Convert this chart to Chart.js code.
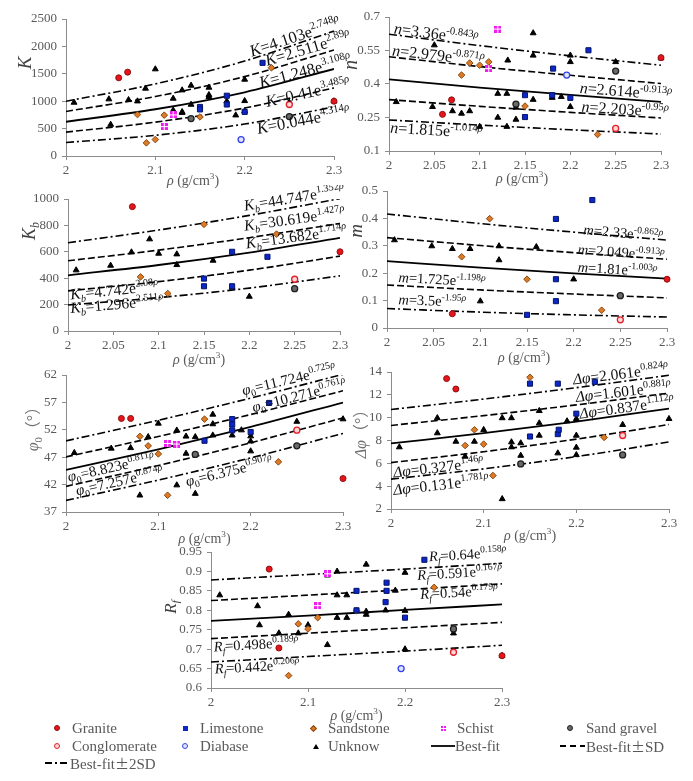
<!DOCTYPE html>
<html>
<head>
<meta charset="utf-8">
<script src="https://cdn.jsdelivr.net/npm/chart.js@4.4.1/dist/chart.umd.min.js"></script>
<style>
  body { margin: 0; background: #fff; width: 693px; height: 781px; position: relative; overflow: hidden;
         font-family: 'Liberation Serif', 'Times New Roman', serif; }
  .pane { position: absolute; }
  .lg { position: absolute; font-size: 15px; line-height: 16px; color: #595959; white-space: nowrap; }
  .pm { font-family: 'Noto Sans CJK SC', sans-serif; font-size: 14px; }
  .mk { position: absolute; box-sizing: border-box; }
</style>
</head>
<body>
<script>
// ---- shared axis values ----
var rhoTicksWide = [2, 2.1, 2.2, 2.3];
var rhoTicksFine = [2, 2.05, 2.1, 2.15, 2.2, 2.25, 2.3];
var fitRho = [2, 2.1, 2.2, 2.3];

// ---- K ----
var kTicks = [0, 500, 1000, 1500, 2000, 2500];
var kGranite = [[2.059, 1427], [2.069, 1530], [2.3, 1000]];
var kLimestone = [[2.22, 1700], [2.18, 1100], [2.18, 940], [2.15, 895], [2.15, 850], [2.2, 805]];
var kSandstone = [[2.23, 1610], [2.08, 756], [2.11, 745], [2.15, 713], [2.09, 240], [2.1, 300]];
var kSchist = [[2.12, 750], [2.11, 537]];
var kSandGravel = [[2.14, 683], [2.25, 720]];
var kConglomerate = [[2.25, 940]];
var kDiabase = [[2.196, 300]];
var kUnknown = [[2.009, 976], [2.048, 1037], [2.05, 573], [2.07, 1024], [2.08, 1000], [2.089, 1232], [2.1, 1585],
  [2.12, 1049], [2.12, 835], [2.13, 1201], [2.13, 805], [2.13, 790], [2.14, 1287], [2.14, 939], [2.16, 1250],
  [2.16, 1116], [2.16, 1079], [2.18, 1000], [2.19, 744], [2.2, 1396], [2.2, 1006], [2.2, 820], [2.25, 976], [2.3, 1000]];
var kFits = [[1000, 1316, 1733, 2280], [813, 1085, 1449, 1934], [625, 853, 1163, 1588], [436, 618, 876, 1242], [246, 378, 583, 897]];
var kEqA = ['4.103', '2.511', '1.248', '0.41', '0.044'];
var kEqB = ['2.748', '2.89', '3.108', '3.485', '4.314'];

// ---- n ----
var nTicks = [0.1, 0.25, 0.4, 0.55, 0.7];
var nGranite = [[2.069, 0.329], [2.059, 0.264], [2.3, 0.518]];
var nLimestone = [[2.22, 0.551], [2.181, 0.469], [2.15, 0.35], [2.15, 0.252], [2.18, 0.35], [2.2, 0.338]];
var nSandstone = [[2.089, 0.494], [2.1, 0.484], [2.11, 0.499], [2.08, 0.44], [2.15, 0.301], [2.23, 0.174]];
var nSchist = [[2.12, 0.646], [2.11, 0.469]];
var nSandGravel = [[2.25, 0.458], [2.14, 0.31]];
var nConglomerate = [[2.25, 0.201]];
var nDiabase = [[2.196, 0.44]];
var nUnknown = [[2.008, 0.32], [2.05, 0.574], [2.048, 0.298], [2.07, 0.279], [2.08, 0.268], [2.089, 0.279], [2.1, 0.209],
  [2.12, 0.357], [2.12, 0.25], [2.13, 0.357], [2.131, 0.506], [2.13, 0.209], [2.14, 0.295], [2.14, 0.241], [2.159, 0.628],
  [2.159, 0.528], [2.159, 0.33], [2.18, 0.339], [2.19, 0.343], [2.2, 0.528], [2.2, 0.499], [2.2, 0.298], [2.25, 0.499], [2.3, 0.516]];
var nFits = [[0.623, 0.572, 0.526, 0.484], [0.522, 0.478, 0.439, 0.402], [0.421, 0.384, 0.351, 0.320],
  [0.330, 0.300, 0.273, 0.248], [0.239, 0.216, 0.195, 0.176]];
var nEqA = ['3.36', '2.979', '2.614', '2.203', '1.815'];
var nEqB = ['-0.843', '-0.871', '-0.913', '-0.95', '-1.014'];

// ---- Kb ----
var kbTicks = [0, 200, 400, 600, 800, 1000];
var kbGranite = [[2.071, 942], [2.3, 600]];
var kbLimestone = [[2.181, 600], [2.15, 397], [2.15, 339], [2.181, 339], [2.22, 562]];
var kbSandstone = [[2.15, 808], [2.23, 734], [2.08, 410], [2.11, 284]];
var kbSandGravel = [[2.25, 321]];
var kbConglomerate = [[2.25, 392]];
var kbUnknown = [[2.009, 461], [2.047, 496], [2.07, 597], [2.09, 696], [2.1, 587], [2.12, 582], [2.12, 501],
  [2.16, 534], [2.2, 261], [2.181, 330]];
var kbFits = [[669, 765, 876, 1003], [532, 613, 707, 815], [422, 500, 594, 705], [304, 374, 461, 567], [197, 253, 325, 418]];
var kbEqA = ['44.747', '30.619', '13.682', '4.742', '1.296'];
var kbEqB = ['1.352', '1.427', '1.714', '2.08', '2.511'];

// ---- m ----
var mTicks = [0, 0.1, 0.2, 0.3, 0.4, 0.5];
var mGranite = [[2.07, 0.052], [2.3, 0.178]];
var mLimestone = [[2.22, 0.467], [2.181, 0.398], [2.181, 0.178], [2.181, 0.098], [2.15, 0.048]];
var mSandstone = [[2.11, 0.399], [2.08, 0.26], [2.15, 0.178], [2.23, 0.065]];
var mSandGravel = [[2.25, 0.118]];
var mConglomerate = [[2.25, 0.03]];
var mUnknown = [[2.008, 0.321], [2.048, 0.299], [2.07, 0.289], [2.089, 0.289], [2.12, 0.299], [2.12, 0.248],
  [2.16, 0.296], [2.2, 0.178], [2.1, 0.098]];
var mFits = [[0.416, 0.381, 0.350, 0.321], [0.330, 0.301, 0.275, 0.251], [0.244, 0.220, 0.199, 0.180],
  [0.157, 0.139, 0.124, 0.110], [0.071, 0.058, 0.048, 0.040]];
var mEqA = ['2.33', '2.049', '1.81', '1.725', '3.5'];
var mEqB = ['-0.862', '-0.913', '-1.003', '-1.198', '-1.95'];

// ---- phi0 ----
var phiTicks = [37, 42, 47, 52, 57, 62];
var phiGranite = [[2.06, 54.07], [2.07, 54.07], [2.3, 43.1]];
var phiLimestone = [[2.22, 56.9], [2.18, 53.95], [2.18, 52.98], [2.18, 51.9], [2.15, 50.0], [2.2, 51.6]];
var phiSandstone = [[2.15, 53.95], [2.08, 50.8], [2.089, 49.07], [2.1, 47.6], [2.11, 40.05], [2.23, 46.15]];
var phiSchist = [[2.11, 49.5], [2.12, 49.4]];
var phiSandGravel = [[2.14, 47.5], [2.25, 49.07]];
var phiConglomerate = [[2.25, 51.94]];
var phiUnknown = [[2.009, 47.8], [2.049, 48.6], [2.07, 48.7], [2.089, 50.7], [2.1, 53.16], [2.12, 51.9], [2.13, 50.8],
  [2.13, 47.67], [2.14, 50.7], [2.159, 54.8], [2.159, 53.05], [2.159, 51.0], [2.18, 51.0], [2.19, 51.94], [2.2, 50.84],
  [2.2, 49.9], [2.2, 48.1], [2.08, 40.05], [2.12, 41.9], [2.14, 40.35], [2.25, 53.5], [2.3, 53.95]];
var phiFits = [[49.98, 53.74, 57.78, 62.12], [47.06, 50.78, 54.79, 59.12], [44.67, 48.45, 52.54, 56.98],
  [41.68, 45.49, 49.64, 54.17], [39.11, 42.82, 46.89, 51.34]];
var phiEqA = ['11.724', '10.271', '8.823', '7.257', '6.375'];
var phiEqB = ['0.725', '0.761', '0.811', '0.874', '0.907'];

// ---- delta phi ----
var dphiTicks = [2, 4, 6, 8, 10, 12, 14];
var dphiGranite = [[2.06, 13.42], [2.07, 12.51]];
var dphiLimestone = [[2.15, 12.98], [2.18, 12.98], [2.22, 13.13], [2.2, 10.35], [2.15, 8.35], [2.18, 8.56], [2.181, 8.94]];
var dphiSandstone = [[2.15, 13.54], [2.09, 8.94], [2.08, 7.56], [2.1, 7.68], [2.11, 4.93], [2.23, 8.27]];
var dphiSandGravel = [[2.14, 5.95], [2.25, 6.74]];
var dphiConglomerate = [[2.25, 8.44]];
var dphiUnknown = [[2.009, 7.42], [2.05, 8.65], [2.07, 7.91], [2.08, 6.6], [2.09, 7.91], [2.1, 8.94], [2.05, 9.97],
  [2.12, 9.97], [2.13, 9.97], [2.13, 7.86], [2.13, 7.42], [2.14, 7.77], [2.14, 6.68], [2.16, 10.6], [2.16, 9.52],
  [2.16, 8.44], [2.18, 6.89], [2.19, 9.7], [2.2, 9.9], [2.2, 8.44], [2.2, 7.39], [2.2, 6.74], [2.25, 9.38], [2.3, 9.9], [2.12, 2.88]];
var dphiFits = [[10.71, 11.63, 12.63, 13.71], [9.32, 10.18, 11.12, 12.15], [7.74, 8.65, 9.66, 10.80],
  [6.06, 7.02, 8.12, 9.40], [4.62, 5.52, 6.59, 7.87]];
var dphiEqA = ['2.061', '1.601', '0.837', '0.327', '0.131'];
var dphiEqB = ['0.824', '0.881', '1.112', '1.46', '1.781'];

// ---- Rf ----
var rfTicks = [0.6, 0.65, 0.7, 0.75, 0.8, 0.85, 0.9, 0.95];
var rfGranite = [[2.06, 0.906], [2.07, 0.703], [2.3, 0.683]];
var rfLimestone = [[2.22, 0.930], [2.181, 0.871], [2.181, 0.850], [2.15, 0.850], [2.18, 0.821], [2.2, 0.781], [2.15, 0.800]];
var rfSandstone = [[2.23, 0.859], [2.15, 0.799], [2.11, 0.781], [2.09, 0.765], [2.1, 0.752], [2.08, 0.632]];
var rfSchist = [[2.12, 0.894], [2.11, 0.812]];
var rfSandGravel = [[2.25, 0.752]];
var rfConglomerate = [[2.25, 0.692]];
var rfDiabase = [[2.196, 0.650]];
var rfUnknown = [[2.009, 0.839], [2.048, 0.811], [2.05, 0.762], [2.07, 0.741], [2.08, 0.789], [2.09, 0.741], [2.1, 0.762],
  [2.12, 0.890], [2.12, 0.711], [2.13, 0.900], [2.13, 0.839], [2.13, 0.781], [2.14, 0.839], [2.14, 0.781], [2.16, 0.918],
  [2.16, 0.797], [2.16, 0.789], [2.18, 0.800], [2.19, 0.851], [2.2, 0.897], [2.2, 0.799], [2.2, 0.700], [2.25, 0.741], [2.3, 0.683]];
var rfFits = [[0.878, 0.892, 0.906, 0.921], [0.825, 0.839, 0.853, 0.868], [0.773, 0.786, 0.801, 0.815],
  [0.727, 0.741, 0.755, 0.769], [0.667, 0.681, 0.695, 0.710]];
var rfEqA = ['0.64', '0.591', '0.54', '0.498', '0.442'];
var rfEqB = ['0.158', '0.167', '0.179', '0.189', '0.206'];

var legendNames = ['Granite', 'Limestone', 'Sandstone', 'Schist', 'Sand gravel',
  'Conglomerate', 'Diabase', 'Unknow', 'Best-fit', 'Best-fit±SD', 'Best-fit±2SD'];

// ---------------------------------------------------------------
var serif = "'Liberation Serif', 'Times New Roman', 'Noto Sans CJK SC', serif";

function makeSchist() {
  var c = document.createElement('canvas');
  c.width = 7; c.height = 7;
  var g = c.getContext('2d');
  g.fillStyle = '#f01cf0';
  g.fillRect(0, 0, 7, 7);
  g.fillStyle = '#ffffff';
  g.fillRect(3, 0, 1, 7);
  g.fillRect(0, 3, 7, 1);
  return c;
}

var rockStyle = {
  granite:      { pointStyle: 'circle',  radius: 3,   bg: '#e8141c', bd: '#8c1010', bw: 1 },
  limestone:    { pointStyle: 'rect',    radius: 3.6, bg: '#0b26c9', bd: '#061466', bw: 1 },
  sandstone:    { pointStyle: 'rectRot', radius: 3.3, bg: '#dc7a26', bd: '#8a4812', bw: 1 },
  schist:       { pointStyle: makeSchist(), radius: 3.5, bg: '#f01cf0', bd: '#f01cf0', bw: 0 },
  sandGravel:   { pointStyle: 'circle',  radius: 3,   bg: '#6a6a6a', bd: '#1e1e1e', bw: 1.3 },
  conglomerate: { pointStyle: 'circle',  radius: 3,   bg: '#ffd6d6', bd: '#e0202a', bw: 1.3 },
  diabase:      { pointStyle: 'circle',  radius: 3,   bg: '#dfe3ff', bd: '#3344e6', bw: 1.3 },
  unknown:      { pointStyle: 'triangle', radius: 3.4, bg: '#000000', bd: '#000000', bw: 1 }
};
var fitDash = [[8, 3, 2, 3], [7, 3], [], [7, 3], [8, 3, 2, 3]];

function fontFor(st, size) {
  var small = st.indexOf('sup') === 0 || st.indexOf('sub') === 0;
  var it = st === 'i' || st === 'supi' || st === 'subi';
  return (it ? 'italic ' : '') + (small ? (size * 0.66).toFixed(1) : size) + 'px ' + serif;
}
function shiftFor(st, size) {
  if (st.indexOf('sup') === 0) return -size * 0.4;
  if (st.indexOf('sub') === 0) return size * 0.22;
  return 0;
}
function drawRich(ctx, tokens, x, y, size, color, align) {
  var w = 0;
  tokens.forEach(function (t) { ctx.font = fontFor(t[1], size); w += ctx.measureText(t[0]).width; });
  var cx = align === 'center' ? x - w / 2 : x;
  ctx.fillStyle = color;
  ctx.textBaseline = 'alphabetic';
  ctx.textAlign = 'left';
  tokens.forEach(function (t) {
    ctx.font = fontFor(t[1], size);
    ctx.fillText(t[0], cx, y + shiftFor(t[1], size));
    cx += ctx.measureText(t[0]).width;
  });
}

var xTitle = [['ρ', 'i'], [' (g/cm', 'n'], ['3', 'sup'], [')', 'n']];

function annotations(p) {
  return {
    id: 'annot',
    afterDraw: function (chart) {
      var ctx = chart.ctx, xs = chart.scales.x, ys = chart.scales.y, a = chart.chartArea;
      ctx.save();
      // equations along the fitted curves
      p.eqAt.forEach(function (pos, i) {
        var k = 0;
        while (k < fitRho.length - 2 && pos[0] > fitRho[k + 1]) k++;
        var x0 = xs.getPixelForValue(fitRho[k]), y0 = ys.getPixelForValue(p.fits[i][k]);
        var x1 = xs.getPixelForValue(fitRho[k + 1]), y1 = ys.getPixelForValue(p.fits[i][k + 1]);
        var ang = Math.atan2(y1 - y0, x1 - x0);
        var tokens = p.lhs.concat([['=' + p.eqA[i] + 'e', 'n'], [p.eqB[i], 'sup'], ['ρ', 'supi']]);
        ctx.save();
        ctx.translate(xs.getPixelForValue(pos[0]), ys.getPixelForValue(pos[1]));
        ctx.rotate(ang);
        drawRich(ctx, tokens, 0, 0, p.eqSize, '#111111', 'left');
        ctx.restore();
      });
      // y title
      ctx.save();
      ctx.translate(a.left + p.yTitleAt[0], a.top + p.yTitleAt[1]);
      ctx.rotate(-Math.PI / 2);
      drawRich(ctx, p.yTitle, 0, p.yTitleSize * 0.33, p.yTitleSize, p.yTitleColor, 'center');
      ctx.restore();
      // x title
      drawRich(ctx, xTitle, (a.left + a.right) / 2 + p.xTitleAt[0], a.bottom + p.xTitleAt[1] + 5, 14, '#595959', 'center');
      ctx.restore();
    }
  };
}

function buildPlot(p) {
  var L = p.area[0], T = p.area[1], R = p.area[2], B = p.area[3];
  var padT = 14, padR = 22, yW = 62, xH = 44;
  var w = R - L + yW + padR, h = B - T + padT + xH;
  var div = document.createElement('div');
  div.className = 'pane';
  div.style.left = (L - yW) + 'px';
  div.style.top = (T - padT) + 'px';
  div.style.width = w + 'px';
  div.style.height = h + 'px';
  var cv = document.createElement('canvas');
  cv.width = w; cv.height = h;
  div.appendChild(cv);
  document.body.appendChild(div);

  var datasets = [];
  Object.keys(p.points).forEach(function (type) {
    var s = rockStyle[type];
    datasets.push({
      label: type,
      data: p.points[type].map(function (d) { return { x: d[0], y: d[1] }; }),
      showLine: false,
      pointStyle: s.pointStyle,
      pointRadius: s.radius,
      backgroundColor: s.bg,
      borderColor: s.bd,
      borderWidth: s.bw,
      clip: false,
      order: 0
    });
  });
  p.fits.forEach(function (vals, i) {
    datasets.push({
      type: 'line',
      data: fitRho.map(function (x, k) { return { x: x, y: vals[k] }; }),
      showLine: true,
      borderColor: '#000000',
      borderWidth: i === 2 ? 1.8 : 1.6,
      borderDash: fitDash[i],
      pointRadius: 0,
      fill: false,
      cubicInterpolationMode: 'monotone',
      order: 1
    });
  });

  var axisColor = '#8c8c8c';
  function axis(min, max, ticks, isX) {
    return {
      type: 'linear',
      min: min, max: max,
      afterBuildTicks: function (s) { s.ticks = ticks.map(function (v) { return { value: v }; }); },
      afterFit: function (s) { if (isX) s.height = xH; else s.width = yW; },
      grid: { display: true, drawOnChartArea: false, drawTicks: true, tickLength: 4, color: axisColor },
      border: { display: true, color: axisColor, width: 1 },
      ticks: {
        autoSkip: false, maxRotation: 0, padding: isX ? 3 : 5, color: '#595959',
        font: { family: serif, size: 13 },
        callback: function (v) { return String(v); }
      }
    };
  }

  new Chart(cv, {
    type: 'scatter',
    data: { datasets: datasets },
    options: {
      responsive: false,
      animation: false,
      layout: { padding: { left: 0, top: padT, right: padR, bottom: 0 } },
      plugins: { legend: { display: false }, tooltip: { enabled: false } },
      scales: {
        x: axis(2, 2.3, p.xTicks, true),
        y: axis(p.yRange[0], p.yRange[1], p.yTicks, false)
      }
    },
    plugins: [annotations(p)]
  });
}

var plots = [
  { area: [66, 19, 334, 156], xTicks: rhoTicksWide, yRange: [0, 2500], yTicks: kTicks,
    points: { granite: kGranite, limestone: kLimestone, sandstone: kSandstone, schist: kSchist,
      sandGravel: kSandGravel, conglomerate: kConglomerate, diabase: kDiabase, unknown: kUnknown },
    fits: kFits, eqA: kEqA, eqB: kEqB, lhs: [['K', 'i']], eqSize: 16.5,
    eqAt: [[2.208, 1812], [2.225, 1642], [2.218, 1241], [2.225, 894], [2.215, 401]],
    yTitle: [['K', 'i']], yTitleSize: 19, yTitleColor: '#404040', yTitleAt: [-41, 44], xTitleAt: [-7, 24] },
  { area: [389, 17, 661, 151], xTicks: rhoTicksFine, yRange: [0.1, 0.7], yTicks: nTicks,
    points: { granite: nGranite, limestone: nLimestone, sandstone: nSandstone, schist: nSchist,
      sandGravel: nSandGravel, conglomerate: nConglomerate, diabase: nDiabase, unknown: nUnknown },
    fits: nFits, eqA: nEqA, eqB: nEqB, lhs: [['n', 'i']], eqSize: 16,
    eqAt: [[2.005, 0.626], [2.003, 0.528], [2.21, 0.36], [2.212, 0.276], [2.001, 0.182]],
    yTitle: [['n', 'i']], yTitleSize: 20, yTitleColor: '#404040', yTitleAt: [-39, 48], xTitleAt: [-3, 27] },
  { area: [68, 199, 340, 331], xTicks: rhoTicksFine, yRange: [0, 1000], yTicks: kbTicks,
    points: { granite: kbGranite, limestone: kbLimestone, sandstone: kbSandstone,
      sandGravel: kbSandGravel, conglomerate: kbConglomerate, unknown: kbUnknown },
    fits: kbFits, eqA: kbEqA, eqB: kbEqB, lhs: [['K', 'i'], ['b', 'subi']], eqSize: 15.5,
    eqAt: [[2.195, 911], [2.195, 759], [2.197, 625], [2.003, 238], [2.003, 137]],
    yTitle: [['K', 'i'], ['b', 'subi']], yTitleSize: 18, yTitleColor: '#404040', yTitleAt: [-39, 32], xTitleAt: [-5, 28] },
  { area: [387, 191, 667, 328], xTicks: rhoTicksFine, yRange: [0, 0.5], yTicks: mTicks,
    points: { granite: mGranite, limestone: mLimestone, sandstone: mSandstone,
      sandGravel: mSandGravel, conglomerate: mConglomerate, unknown: mUnknown },
    fits: mFits, eqA: mEqA, eqB: mEqB, lhs: [['m', 'i']], eqSize: 14.5,
    eqAt: [[2.21, 0.342], [2.204, 0.27], [2.204, 0.205], [2.012, 0.168], [2.012, 0.087]],
    yTitle: [['m', 'i']], yTitleSize: 19, yTitleColor: '#404040', yTitleAt: [-31, 40], xTitleAt: [-3, 29] },
  { area: [66, 375, 343, 512], xTicks: rhoTicksWide, yRange: [37, 62], yTicks: phiTicks,
    points: { granite: phiGranite, limestone: phiLimestone, sandstone: phiSandstone, schist: phiSchist,
      sandGravel: phiSandGravel, conglomerate: phiConglomerate, unknown: phiUnknown },
    fits: phiFits, eqA: phiEqA, eqB: phiEqB, lhs: [['φ', 'i'], ['0', 'sub']], eqSize: 15,
    eqAt: [[2.192, 58.3], [2.203, 55.2], [2.003, 42.5], [2.012, 40.0], [2.131, 41.7]],
    yTitle: [['φ', 'i'], ['0', 'sub'], ['（°）', 'n']], yTitleSize: 16, yTitleColor: '#707070', yTitleAt: [-33, 50], xTitleAt: [0, 26] },
  { area: [391, 372, 669, 509], xTicks: rhoTicksWide, yRange: [2, 14], yTicks: dphiTicks,
    points: { granite: dphiGranite, limestone: dphiLimestone, sandstone: dphiSandstone,
      sandGravel: dphiSandGravel, conglomerate: dphiConglomerate, unknown: dphiUnknown },
    fits: dphiFits, eqA: dphiEqA, eqB: dphiEqB, lhs: [['Δφ', 'i']], eqSize: 15.5,
    eqAt: [[2.197, 12.9], [2.2, 11.37], [2.204, 9.9], [2.003, 4.75], [2.003, 3.23]],
    yTitle: [['Δφ', 'i'], ['（°）', 'n']], yTitleSize: 16, yTitleColor: '#707070', yTitleAt: [-30, 58], xTitleAt: [0, 26] },
  { area: [211, 552, 502, 688], xTicks: rhoTicksWide, yRange: [0.6, 0.95], yTicks: rfTicks,
    points: { granite: rfGranite, limestone: rfLimestone, sandstone: rfSandstone, schist: rfSchist,
      sandGravel: rfSandGravel, conglomerate: rfConglomerate, diabase: rfDiabase, unknown: rfUnknown },
    fits: rfFits, eqA: rfEqA, eqB: rfEqB, lhs: [['R', 'i'], ['f', 'subi']], eqSize: 14.5,
    eqAt: [[2.225, 0.926], [2.213, 0.878], [2.216, 0.829], [2.003, 0.694], [2.004, 0.637]],
    yTitle: [['R', 'i'], ['f', 'subi']], yTitleSize: 17, yTitleColor: '#404040', yTitleAt: [-41, 55], xTitleAt: [0, 27] }
];

Chart.defaults.font.family = serif;
plots.forEach(buildPlot);

// ---- legend (HTML) ----
function addText(txt, x, cy) {
  var s = document.createElement('div');
  s.className = 'lg';
  s.style.left = x + 'px';
  s.style.top = (cy - 8) + 'px';
  s.innerHTML = txt.replace('±', '<span class="pm">±</span>');
  document.body.appendChild(s);
}
function addMarker(css, cx, cy, w, h) {
  var m = document.createElement('div');
  m.className = 'mk';
  m.style.cssText = css + ';left:' + (cx - w / 2) + 'px;top:' + (cy - h / 2) + 'px;width:' + w + 'px;height:' + h + 'px;';
  document.body.appendChild(m);
}
function addLine(dash, x0, x1, cy) {
  var ns = 'http://www.w3.org/2000/svg';
  var svg = document.createElementNS(ns, 'svg');
  svg.setAttribute('width', x1 - x0);
  svg.setAttribute('height', 4);
  svg.style.position = 'absolute';
  svg.style.left = x0 + 'px';
  svg.style.top = (cy - 2) + 'px';
  var ln = document.createElementNS(ns, 'line');
  ln.setAttribute('x1', 0); ln.setAttribute('x2', x1 - x0);
  ln.setAttribute('y1', 2); ln.setAttribute('y2', 2);
  ln.setAttribute('stroke', '#000');
  ln.setAttribute('stroke-width', 1.8);
  if (dash) ln.setAttribute('stroke-dasharray', dash);
  svg.appendChild(ln);
  document.body.appendChild(svg);
}

var row1 = 728, row2 = 746, row3 = 763;
addMarker('background:#e8141c;border:1px solid #8c1010;border-radius:50%', 57, row1, 6, 6);
addText(legendNames[0], 72, row1);
addMarker('background:#0b26c9', 185, row1, 5, 5);
addText(legendNames[1], 200, row1);
addMarker('background:#dc7a26;border:1px solid #8a4812;transform:rotate(45deg)', 313, row1, 5, 5);
addText(legendNames[2], 328, row1);
addMarker('background:linear-gradient(#fff,#fff) center/100% 1px no-repeat,linear-gradient(#fff,#fff) center/1px 100% no-repeat,#f01cf0', 443, row1, 5, 5);
addText(legendNames[3], 457, row1);
addMarker('background:#6a6a6a;border:1.3px solid #1e1e1e;border-radius:50%', 570, row1, 6, 6);
addText(legendNames[4], 586, row1);

addMarker('background:#ffd6d6;border:1.3px solid #e0202a;border-radius:50%', 57, row2, 6, 6);
addText(legendNames[5], 72, row2);
addMarker('background:#dfe3ff;border:1.3px solid #3344e6;border-radius:50%', 185, row2, 6, 6);
addText(legendNames[6], 200, row2);
addMarker('width:0;height:0;border-left:3px solid transparent;border-right:3px solid transparent;border-bottom:5px solid #000', 313, row2, 0, 5);
addText(legendNames[7], 328, row2);
addLine(null, 431, 455, row2);
addText(legendNames[8], 455, row2);
addLine('6,4', 560, 585, row2);
addText(legendNames[9], 586, row2);

addLine('7,3,2,3', 45, 68, row3);
addText(legendNames[10], 70, row3);
</script>
</body>
</html>
